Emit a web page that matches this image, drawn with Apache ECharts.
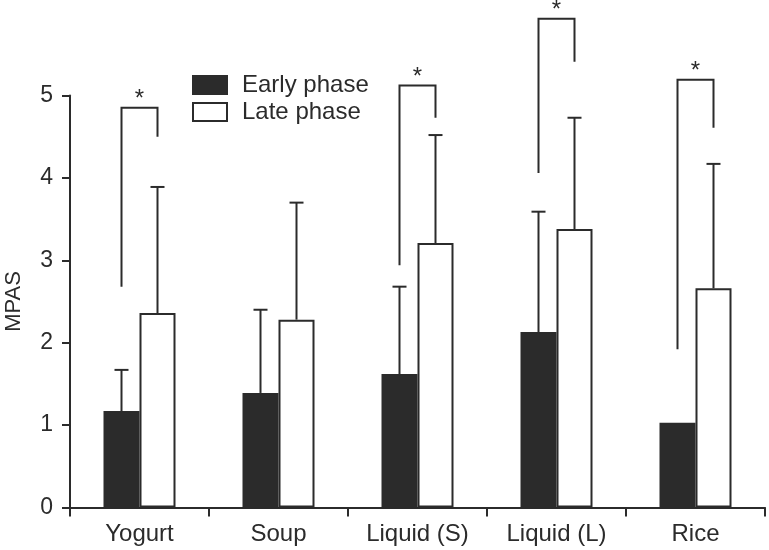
<!DOCTYPE html>
<html>
<head>
<meta charset="utf-8">
<script src="https://cdn.jsdelivr.net/npm/echarts@6/dist/echarts.min.js"></script>
<style>html,body{margin:0;padding:0;background:#fff}#c{width:769px;height:550px}</style>
</head>
<body>
<div id="c"></div>
<script>
const categories = ['Yogurt', 'Soup', 'Liquid (S)', 'Liquid (L)', 'Rice'];
const earlyMean = [1.17, 1.39, 1.62, 2.13, 1.03];
const earlyErrTop = [1.67, 2.40, 2.68, 3.59, null];
const lateMean = [2.36, 2.28, 3.21, 3.38, 2.66];
const lateErrTop = [3.89, 3.70, 4.52, 4.73, 4.17];
// significance brackets: [category index, left line start, top, right line end]
const brackets = [
  [0, 2.68, 4.85, 4.50],
  [2, 2.94, 5.12, 4.73],
  [3, 4.06, 5.93, 5.41],
  [4, 1.92, 5.19, 4.61]
];
const yTicks = [0, 1, 2, 3, 4, 5];

const FONT = '"Liberation Sans", Arial, Helvetica, sans-serif';
const INK = '#2b2b2b';
const BAR_W = 36;

const chart = echarts.init(document.getElementById('c'), null, {renderer: 'canvas'});

function errRender(offsetSign, tops, means) {
  return function (params, api) {
    const i = api.value(0);
    const top = tops[i];
    if (top == null) return null;
    const base = api.coord([i, means[i]]);
    const t = api.coord([i, top]);
    const x = base[0] + offsetSign * BAR_W / 2;
    const st = {stroke: INK, lineWidth: 2};
    return {
      type: 'group',
      children: [
        {type: 'line', shape: {x1: x, y1: base[1], x2: x, y2: t[1]}, style: st},
        {type: 'line', shape: {x1: x - 7, y1: t[1], x2: x + 7, y2: t[1]}, style: st}
      ]
    };
  };
}

chart.setOption({
  animation: false,
  backgroundColor: '#fff',
  grid: {left: 70, right: 4, top: 95.5, bottom: 42.5, containLabel: false, outerBoundsMode: 'none'},
  legend: {
    orient: 'vertical',
    left: 187, top: 68,
    icon: 'rect',
    itemWidth: 34, itemHeight: 18, itemGap: 3,
    textStyle: {fontFamily: FONT, fontSize: 24, lineHeight: 24, color: INK, padding: [0, 0, 0, 10]},
    data: [
      {name: 'Early phase', itemStyle: {color: INK, borderColor: INK, borderWidth: 2}},
      {name: 'Late phase', itemStyle: {color: '#fff', borderColor: INK, borderWidth: 2}}
    ]
  },
  xAxis: {
    type: 'category',
    data: categories,
    axisLine: {lineStyle: {color: INK, width: 2}},
    axisTick: {show: true, length: 9, lineStyle: {color: INK, width: 2}},
    axisLabel: {fontFamily: FONT, fontSize: 24, color: INK, margin: 15}
  },
  yAxis: {
    type: 'value',
    min: 0, max: 5, interval: 1,
    name: 'MPAS',
    nameLocation: 'middle',
    nameGap: 45,
    nameTextStyle: {fontFamily: FONT, fontSize: 22, color: INK},
    splitLine: {show: false},
    axisLine: {show: true, lineStyle: {color: INK, width: 2}},
    axisTick: {show: true, length: 8, lineStyle: {color: INK, width: 2}},
    axisLabel: {
      fontFamily: FONT, fontSize: 23, color: INK, margin: 17,
      formatter: v => yTicks.includes(v) ? String(v) : ''
    }
  },
  series: [
    {
      name: 'Early phase', type: 'bar', data: earlyMean,
      barWidth: BAR_W, barGap: '0%',
      itemStyle: {color: INK, borderColor: INK, borderWidth: 1.5},
      z: 2
    },
    {
      name: 'Late phase', type: 'bar', data: lateMean,
      barWidth: BAR_W, barGap: '0%',
      itemStyle: {color: '#fff', borderColor: INK, borderWidth: 2},
      z: 2
    },
    {
      type: 'custom', name: 'errEarly',
      data: categories.map((c, i) => [i]),
      renderItem: errRender(-1, earlyErrTop, earlyMean),
      clip: false, z: 3, silent: true
    },
    {
      type: 'custom', name: 'errLate',
      data: categories.map((c, i) => [i]),
      renderItem: errRender(1, lateErrTop, lateMean),
      clip: false, z: 3, silent: true
    },
    {
      type: 'custom', name: 'sig',
      data: brackets,
      renderItem: function (params, api) {
        const i = api.value(0);
        const pStart = api.coord([i, api.value(1)]);
        const pTop = api.coord([i, api.value(2)]);
        const pEnd = api.coord([i, api.value(3)]);
        const xl = pStart[0] - BAR_W / 2;
        const xr = pStart[0] + BAR_W / 2;
        const st = {stroke: INK, lineWidth: 2, fill: null};
        return {
          type: 'group',
          children: [
            {type: 'polyline', shape: {points: [[xl, pStart[1]], [xl, pTop[1]], [xr, pTop[1]], [xr, pEnd[1]]]}, style: st},
            {type: 'text', style: {text: '*', x: pStart[0], y: pTop[1] + 4, textAlign: 'center', textVerticalAlign: 'bottom', font: '24px ' + FONT, fill: INK}}
          ]
        };
      },
      clip: false, z: 3, silent: true
    }
  ]
});
</script>
</body>
</html>
